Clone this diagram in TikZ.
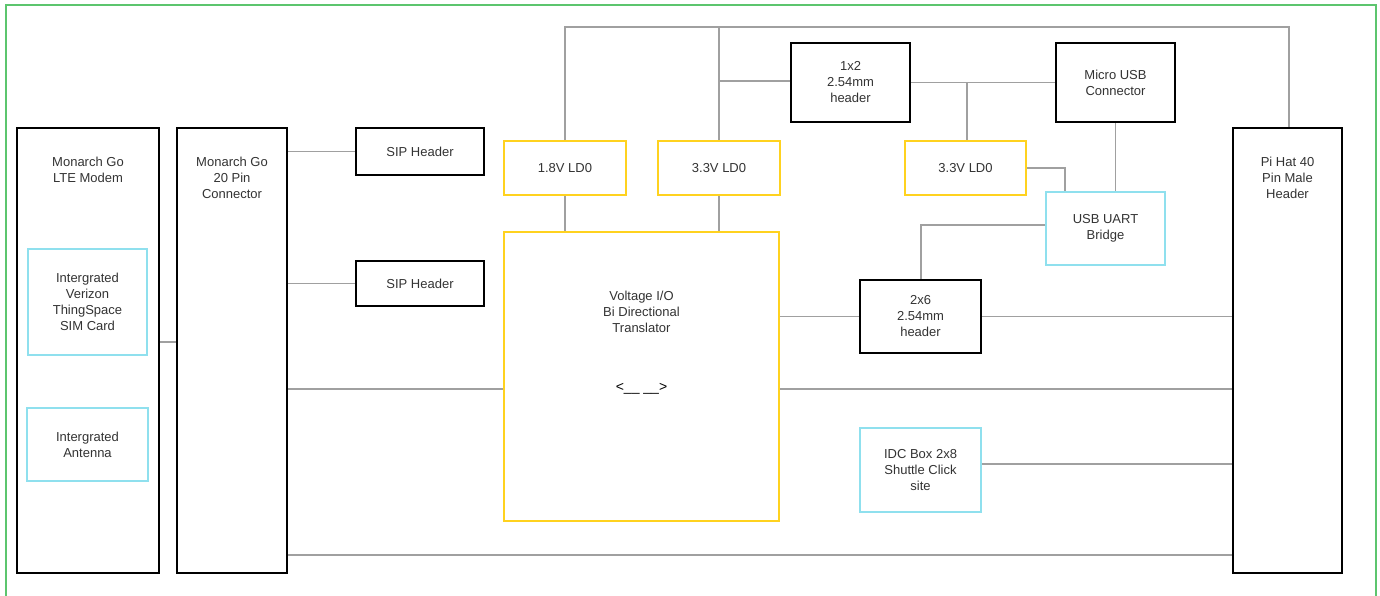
\documentclass[tikz,border=0pt]{standalone}
\usepackage{fontspec}
\setmainfont{Liberation Sans}
\definecolor{frameg}{HTML}{5CC56E}
\definecolor{ylw}{HTML}{FFD21F}
\definecolor{cyn}{HTML}{8FE0EE}
\definecolor{wire}{HTML}{A0A0A0}
\definecolor{txt}{HTML}{333333}
\tikzset{
  box/.style={draw=black, line width=2pt, inner sep=0pt, fill=white},
  ybox/.style={draw=ylw, line width=2pt, inner sep=0pt, fill=white},
  cbox/.style={draw=cyn, line width=2pt, inner sep=0pt, fill=white},
  lbl/.style={text=txt, align=center, inner sep=0pt, font=\fontsize{13pt}{16pt}\selectfont},
  wr/.style={draw=wire, line width=1.5pt},
}
\begin{document}
\begin{tikzpicture}[x=1pt,y=-1pt,every node/.style={font=\fontsize{13pt}{16pt}\selectfont, text=txt, align=center}]
\useasboundingbox (0,0) rectangle (1380,595);
\begin{scope}
\clip (0,0) rectangle (1380,595);
\draw[frameg, line width=2pt] (6,5) rectangle (1376,620);
\end{scope}
\coordinate (rail) at (0,27);

% wires first (under boxes)
% nodes
\node[box, minimum width=142pt, minimum height=445pt] (modem) at (88,350.5) {};
\node[lbl] at ([yshift=-43pt]modem.north) {Monarch Go\\LTE Modem};
\node[box, minimum width=110pt, minimum height=445pt] (conn) at (232,350.5) {};
\node[lbl] at ([yshift=-51pt]conn.north) {Monarch Go\\20 Pin\\Connector};
\node[box, minimum width=109pt, minimum height=445pt] (pihat) at (1287.5,350.5) {};
\node[lbl] at ([yshift=-51pt]pihat.north) {Pi Hat 40\\Pin Male\\Header};

\node[cbox, minimum width=119pt, minimum height=106pt] (sim) at (87.5,302) {Intergrated\\Verizon\\ThingSpace\\SIM Card};
\node[cbox, minimum width=121pt, minimum height=73pt] (ant) at (87.5,444.5) {Intergrated\\Antenna};

\node[box, minimum width=128pt, minimum height=47pt] (sip1) at (420,151.5) {SIP Header};
\node[box, minimum width=128pt, minimum height=45pt] (sip2) at (420,283.5) {SIP Header};

\node[ybox, minimum width=122pt, minimum height=54pt] (ldoa) at (565,168) {1.8V LD0};
\node[ybox, minimum width=122pt, minimum height=54pt] (ldob) at (719,168) {3.3V LD0};
\node[ybox, minimum width=121pt, minimum height=54pt] (ldoc) at (965.5,168) {3.3V LD0};

\node[box, minimum width=119pt, minimum height=79pt] (hdra) at (850.5,82.5) {1x2\\2.54mm\\header};
\node[box, minimum width=119pt, minimum height=79pt] (usb) at (1115.5,82.5) {Micro USB\\Connector};
\node[cbox, minimum width=119pt, minimum height=73pt] (uart) at (1105.5,228.5) {USB UART\\Bridge};

\node[ybox, minimum width=275pt, minimum height=289pt] (vio) at (641.5,376.5) {};
\node[lbl] at ([yshift=-81pt]vio.north) {Voltage I/O\\Bi Directional\\Translator};
\node[text=black, inner sep=0pt, font=\fontsize{14pt}{16pt}\selectfont] at ([yshift=-12.5pt]vio.center) {<\_\_ \_\_>};

\node[box, minimum width=121pt, minimum height=73pt] (hdrb) at (920.5,316.5) {2x6\\2.54mm\\header};
\node[cbox, minimum width=121pt, minimum height=84pt] (idc) at (920.5,470) {IDC Box 2x8\\Shuttle Click\\site};

% connectors
\draw[wr] ([yshift=8.5pt]modem.east) coordinate (m1) -- (m1 -| conn.west);
\draw[wr] (sip1.west) -- (sip1.west -| conn.east);
\draw[wr] (sip2.west) -- (sip2.west -| conn.east);
\draw[wr] ([yshift=-38.5pt]conn.east) coordinate (c1) -- (c1 -| vio.west);
\draw[wr] ([yshift=-204.5pt]conn.east) coordinate (c2) -- (c2 -| pihat.west);
\draw[wr] ([yshift=-12.5pt]vio.east) coordinate (v1) -- (v1 -| pihat.west);
\draw[wr] (hdrb.west) -- (hdrb.west -| vio.east);
\draw[wr] (hdrb.east) -- (hdrb.east -| pihat.west);
\draw[wr] ([yshift=6pt]idc.east) coordinate (i1) -- (i1 -| pihat.west);
\draw[wr] (ldoa.south) -- (ldoa.south |- vio.north);
\draw[wr] (ldob.south) -- (ldob.south |- vio.north);
\draw[wr] (ldoa.north) |- ([xshift=1.5pt]pihat.north |- rail) -- ([xshift=1.5pt]pihat.north);
\draw[wr] (ldob.north) -- (ldob.north |- rail);
\draw[wr] ([yshift=1.5pt]hdra.west) coordinate (h1) -- (h1 -| ldob.north);
\draw[wr] (hdra.east) -- (usb.west);
\draw[wr] ([xshift=1.5pt]hdra.east -| ldoc.north) -- ([xshift=1.5pt]ldoc.north);
\draw[wr] (ldoc.east) -| ([xshift=-40.5pt]uart.north);
\draw[wr] (usb.south) -- (usb.south |- uart.north);
\draw[wr] ([yshift=3.5pt]uart.west) -| ([xshift=0.5pt]hdrb.north);
\end{tikzpicture}
\end{document}
